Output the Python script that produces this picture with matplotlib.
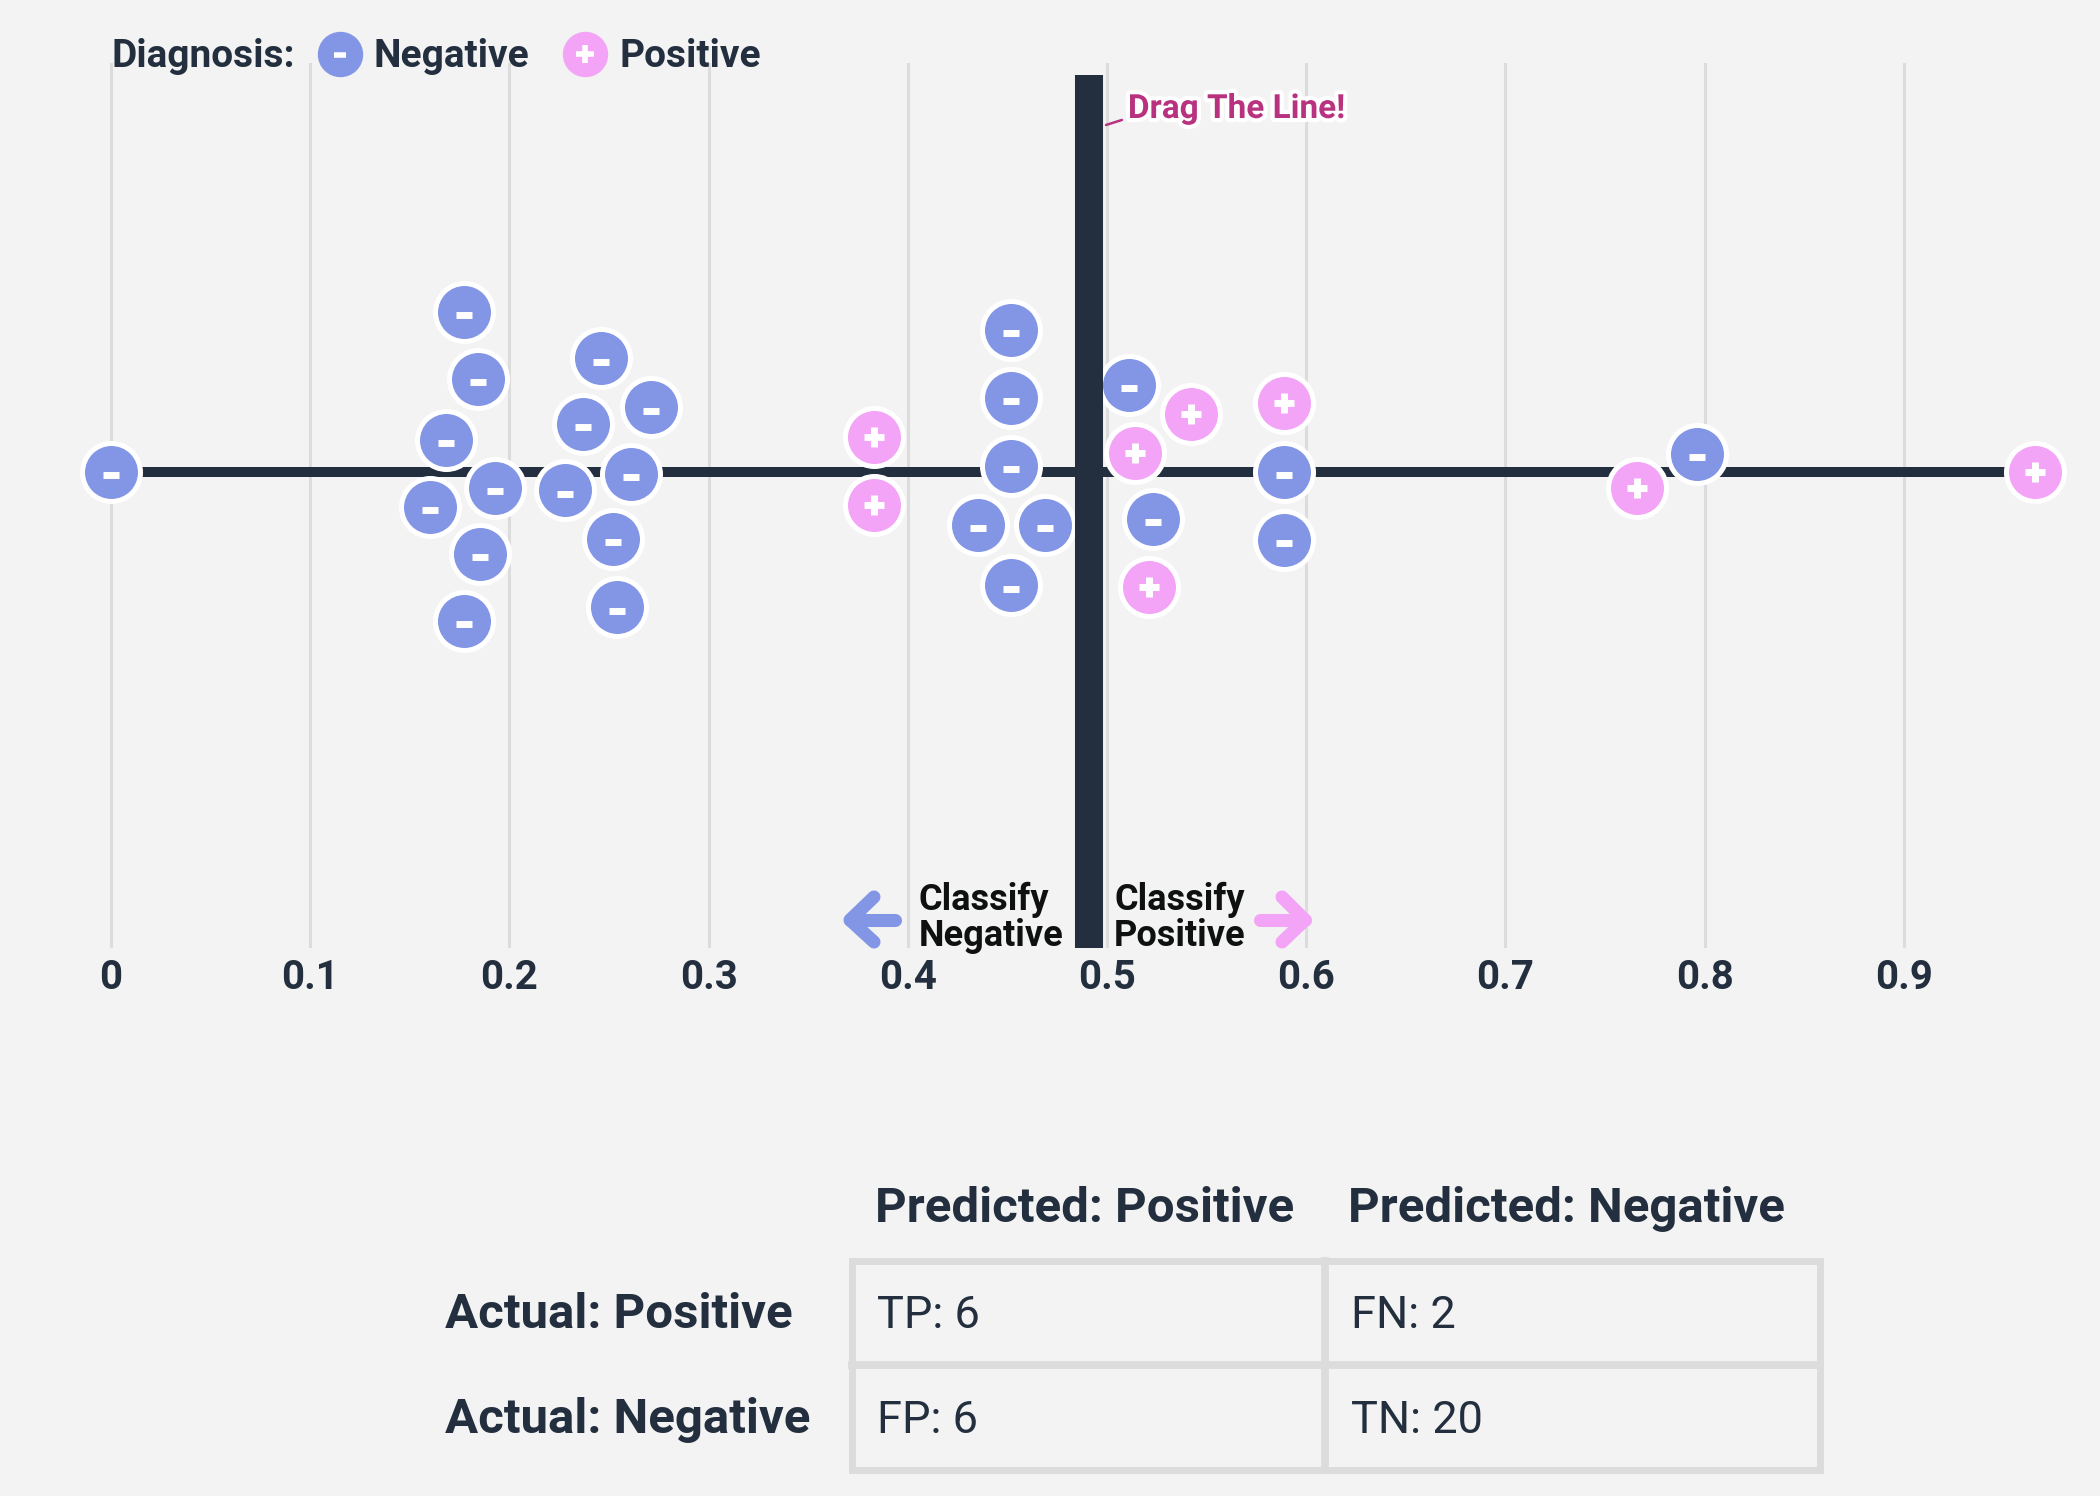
import numpy as np
import matplotlib.pyplot as plt
import matplotlib.patheffects as pe
from matplotlib.patches import Rectangle

plt.rcParams['font.family'] = ['Roboto', 'DejaVu Sans']

# model scores and vertical swarm offsets (in marker rows)
neg_score = [0.000, 0.177, 0.184, 0.168, 0.160, 0.193, 0.185, 0.177,
             0.246, 0.271, 0.237, 0.261, 0.228, 0.252, 0.254,
             0.452, 0.452, 0.452, 0.435, 0.469, 0.452,
             0.511, 0.523, 0.589, 0.589, 0.796]
neg_offset = [0.00, 2.38, 1.38, 0.47, -0.53, -0.24, -1.23, -2.23,
              1.69, 0.96, 0.71, -0.03, -0.28, -1.01, -2.03,
              2.12, 1.10, 0.08, -0.80, -0.80, -1.70,
              1.29, -0.71, 0.00, -1.02, 0.26]
pos_score = [0.383, 0.383, 0.514, 0.542, 0.521, 0.589, 0.766, 0.966]
pos_offset = [0.52, -0.50, 0.28, 0.86, -1.72, 1.03, -0.25, 0.00]
threshold = 0.491

tick_vals = [0.0, 0.1, 0.2, 0.3, 0.4, 0.5, 0.6, 0.7, 0.8, 0.9]
tick_labels = ['0', '0.1', '0.2', '0.3', '0.4', '0.5', '0.6', '0.7', '0.8', '0.9']

col_labels = ['Predicted: Positive', 'Predicted: Negative']
row_labels = ['Actual: Positive', 'Actual: Negative']
cell_names = [['TP', 'FN'], ['FP', 'TN']]
cell_counts = [[6, 2], [6, 20]]

bg = '#f2f3f2'
dark = '#232f3e'
neg_col = '#8396e6'
pos_col = '#f3a4f6'
grid_col = '#dcdcdc'
magenta = '#b8327f'

W, H = 2100, 1496
fig = plt.figure(figsize=(21, 14.96), dpi=100)
fig.patch.set_facecolor(bg)

# main strip plot
ax = fig.add_axes([0, 1 - 948 / H, 1, (948 - 63) / H])
ax.set_facecolor(bg)
px = 1992.0   # pixels per unit score
row = 66.96   # pixels per swarm row
ax.set_xlim(-111 / px, (W - 111) / px)
ax.set_ylim(-(948 - 471.5) / row, (471.5 - 63) / row)
for s in ax.spines.values():
    s.set_visible(False)
ax.set_yticks([])
ax.set_xticks(tick_vals)
ax.set_xticklabels(tick_labels, fontsize=29, fontweight='bold', color=dark)
ax.tick_params(axis='x', length=0, pad=8)
ax.grid(axis='x', color=grid_col, lw=2.2)
ax.set_axisbelow(True)

all_scores = neg_score + pos_score
ax.plot([min(all_scores), max(all_scores)], [0, 0], color=dark, lw=7.2,
        solid_capstyle='butt', zorder=2)

ax.scatter(neg_score, neg_offset, s=1744, c=neg_col, edgecolors='white',
           linewidths=3.6, zorder=3)
ax.scatter(neg_score, np.array(neg_offset) - 0.05, marker='_', s=117, c='white',
           linewidths=5, zorder=4)
ax.scatter(pos_score, pos_offset, s=1744, c=pos_col, edgecolors='white',
           linewidths=3.6, zorder=3)
ax.scatter(pos_score, pos_offset, marker='+', s=227, c='white',
           linewidths=5, zorder=4)

# threshold bar
ylo = ax.get_ylim()[0]
ax.vlines(threshold, ylo, (471.5 - 75) / row, color=dark, lw=20.2, zorder=5)
ax.plot([threshold + 0.0085, threshold + 0.0165], [5.175, 5.25], color=magenta,
        lw=1.8, zorder=5, solid_capstyle='round')
ax.text(threshold + 0.0195, (471.5 - 118) / row, 'Drag The Line!', fontsize=24,
        fontweight='bold', color=magenta, va='baseline', zorder=6,
        path_effects=[pe.withStroke(linewidth=6, foreground='white')])

# overlay in pixel units for legend, arrows and table
ov = fig.add_axes([0, 0, 1, 1], zorder=10)
ov.set_xlim(0, W)
ov.set_ylim(H, 0)
ov.axis('off')

ov.text(111, 67, 'Diagnosis:', fontsize=28, fontweight='bold', color=dark, va='baseline')
ov.scatter([340], [54], s=1003, c=neg_col)
ov.scatter([340], [55], marker='_', s=75, c='white', linewidths=4)
ov.text(374, 67, 'Negative', fontsize=28, fontweight='bold', color=dark, va='baseline')
ov.scatter([585], [54], s=1003, c=pos_col)
ov.scatter([585], [54], marker='+', s=150, c='white', linewidths=4)
ov.text(619, 67, 'Positive', fontsize=28, fontweight='bold', color=dark, va='baseline')

# classify labels with arrows
ov.plot([874, 850, 874], [897, 920, 942], color=neg_col, lw=9.4,
        solid_capstyle='round', solid_joinstyle='round')
ov.plot([850, 895], [920, 920], color=neg_col, lw=9.4, solid_capstyle='round')
ov.plot([1282, 1305, 1282], [897, 920, 942], color=pos_col, lw=9.4,
        solid_capstyle='round', solid_joinstyle='round')
ov.plot([1260, 1305], [920, 920], color=pos_col, lw=9.4, solid_capstyle='round')
for x0, words in [(919, ['Classify', 'Negative']), (1114, ['Classify', 'Positive'])]:
    for yb, w in zip([910, 946], words):
        ov.text(x0, yb, w, fontsize=26, fontweight='bold', color='#0f1111',
                va='baseline')

# confusion matrix table
ov.add_patch(Rectangle((851.5, 1260.5), 1819.5 - 851.5, 1469.5 - 1260.5,
                       fill=False, ec=grid_col, lw=5))
ov.plot([1325, 1325], [1257, 1473], color=grid_col, lw=5.6, solid_capstyle='butt')
ov.plot([848, 1823], [1364.5, 1364.5], color=grid_col, lw=5.6, solid_capstyle='butt')

head_x = [875, 1348]
cell_x = [877, 1351]
row_y = [1328, 1433]
for hx, lab in zip(head_x, col_labels):
    ov.text(hx, 1222, lab, fontsize=35.5, fontweight='bold', color=dark, va='baseline')
for ry, lab in zip(row_y, row_labels):
    ov.text(445, ry, lab, fontsize=35.5, fontweight='bold', color=dark, va='baseline')
for i, ry in enumerate(row_y):
    for j, cx in enumerate(cell_x):
        ov.text(cx, ry, f'{cell_names[i][j]}: {cell_counts[i][j]}', fontsize=32.5,
                color=dark, va='baseline')

fig.savefig('out.png', dpi=100, facecolor=bg)
